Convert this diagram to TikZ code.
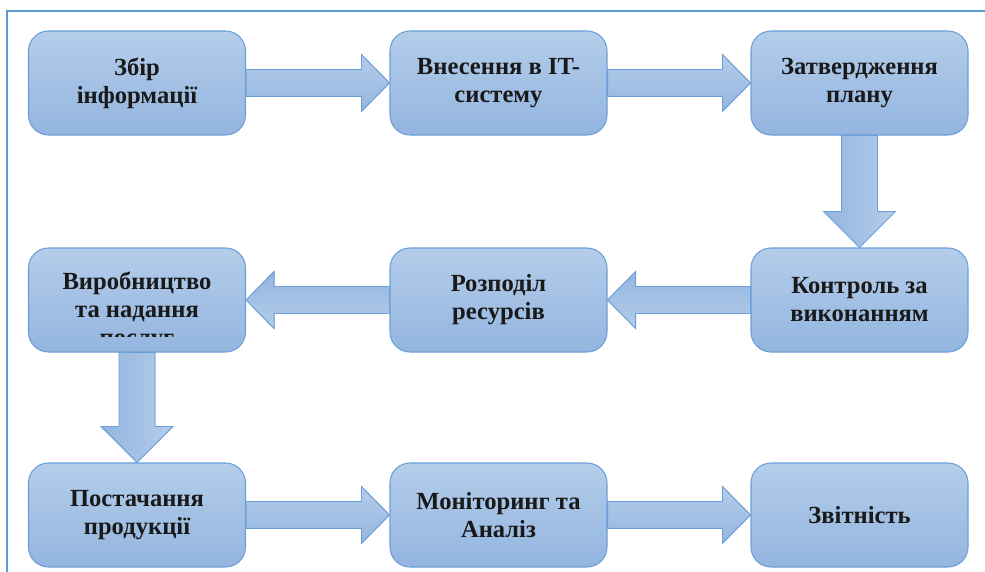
\documentclass[tikz,border=0pt]{standalone}
\usepackage{fontspec}
\setmainfont{Liberation Serif}
\usepackage{tikz}
\usetikzlibrary{calc}

\definecolor{boxtop}{HTML}{B4CDEA}
\definecolor{boxbot}{HTML}{93B5DF}
\definecolor{boxline}{HTML}{6A9FD8}
\definecolor{frameline}{HTML}{5B9BD5}

\begin{document}
\begin{tikzpicture}[x=0.3mm, y=-0.3mm,
    box/.style={rectangle, rounded corners=6mm, draw=boxline, line width=0.9pt,
        top color=boxtop, bottom color=boxbot, minimum width=65.1mm, minimum height=31.2mm,
        align=center, font=\fontsize{21}{24}\selectfont\bfseries, text=black!90},
    harrow/.style={draw=boxline, line width=0.8pt, top color=boxtop, bottom color=boxbot},
    larrow/.style={draw=boxline, line width=0.8pt, top color=boxbot, bottom color=boxtop},
    varrow/.style={draw=boxline, line width=0.8pt, left color=boxbot, right color=boxtop}]
\useasboundingbox (0,0) rectangle (985,572);

% Frame
\draw[frameline, line width=1.6pt] (7,572) -- (7,11) -- (985,11);

% Boxes
\foreach \n/\x/\y/\t in {zbir/137/83/{Збір\\інформації},
        vnesennia/498.5/83/{Внесення в IT-\\систему},
        plan/859.5/83/{Затвердження\\плану},
        kontrol/859.5/300/{Контроль за\\виконанням},
        rozpodil/498.5/300/{Розподіл\\ресурсів},
        vyrobn/137/300/{},
        postach/137/515/{Постачання\\продукції},
        monitor/498.5/515/{Моніторинг та\\Аналіз},
        zvit/859.5/515/{Звітність}}
    \node[box] (\n) at (\x,\y) {\t};

% Text cut off by the box
\begin{scope}
\clip (30,250) rectangle (244,336);
\node[align=center, font=\fontsize{21}{24}\selectfont\bfseries, text=black!90] (vyrobntxt)
    at ($(vyrobn)+(0,11)$) {Виробництво\\та надання\\послуг};
\end{scope}

% Arrows to the right
\foreach \a/\b in {zbir/vnesennia, vnesennia/plan, postach/monitor, monitor/zvit}
    \filldraw[harrow] ($(\a.east)+(0,-13.5)$) -- ($(\b.west)+(-28,-13.5)$) -- ($(\b.west)+(-28,-28.5)$)
        -- (\b.west) -- ($(\b.west)+(-28,28.5)$) -- ($(\b.west)+(-28,13.5)$) -- ($(\a.east)+(0,13.5)$) -- cycle;

% Arrows to the left
\foreach \a/\b in {kontrol/rozpodil, rozpodil/vyrobn}
    \filldraw[larrow] ($(\a.west)+(0,-13.5)$) -- ($(\b.east)+(28,-13.5)$) -- ($(\b.east)+(28,-28.5)$)
        -- (\b.east) -- ($(\b.east)+(28,28.5)$) -- ($(\b.east)+(28,13.5)$) -- ($(\a.west)+(0,13.5)$) -- cycle;

% Arrows down
\foreach \a/\b in {plan/kontrol, vyrobn/postach}
    \filldraw[varrow] ($(\a.south)+(-18,0)$) -- ($(\b.north)+(-18,-36)$) -- ($(\b.north)+(-36,-36)$)
        -- (\b.north) -- ($(\b.north)+(36,-36)$) -- ($(\b.north)+(18,-36)$) -- ($(\a.south)+(18,0)$) -- cycle;
\end{tikzpicture}
\end{document}
